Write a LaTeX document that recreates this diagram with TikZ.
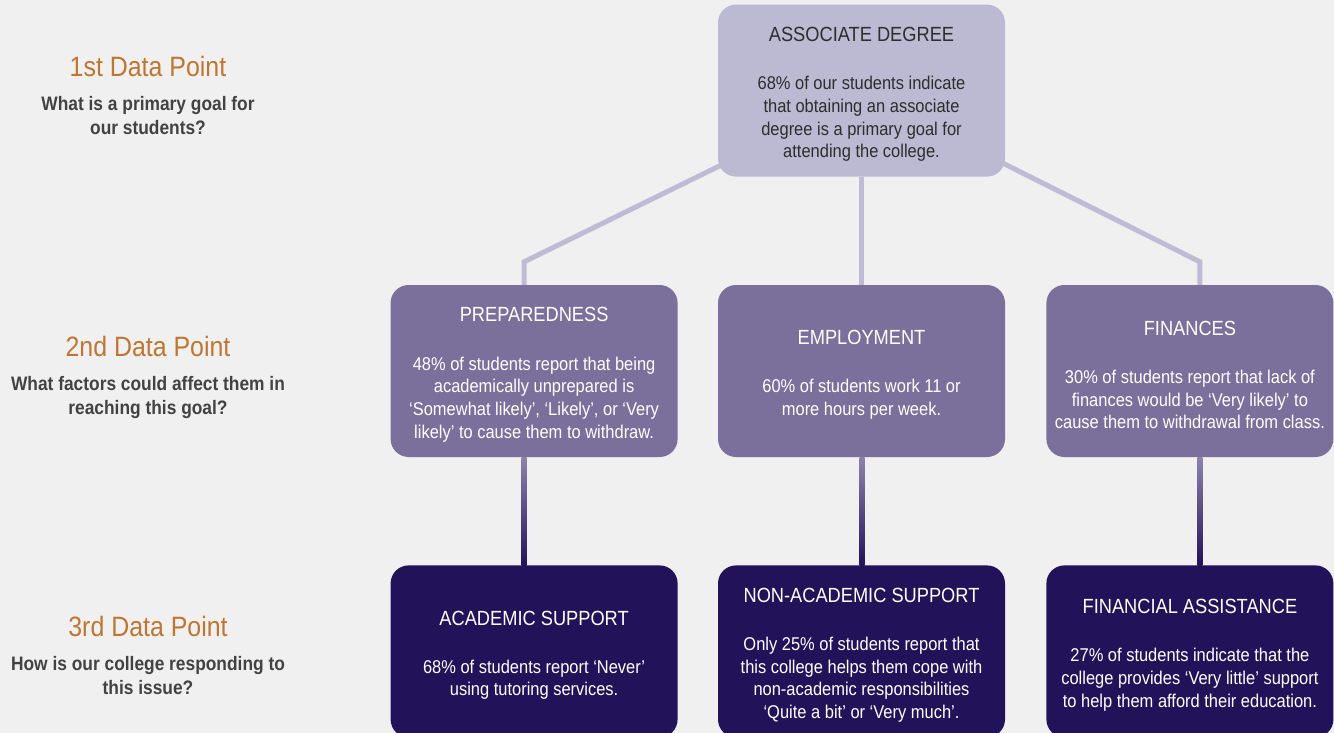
\documentclass[tikz,border=0pt]{standalone}
\usepackage{fontspec}
\setmainfont{Liberation Sans}[FakeStretch=0.89]
\usepackage{tikz}
\usetikzlibrary{positioning,calc,backgrounds}

\definecolor{pagebg}{HTML}{F0F0F0}
\definecolor{lilac}{HTML}{BCB9D2}
\definecolor{lilacline}{HTML}{C0BBD4}
\definecolor{midpurple}{HTML}{7B6F9C}
\definecolor{midline}{HTML}{8C83AC}
\definecolor{darkpurple}{HTML}{22125A}
\definecolor{rust}{HTML}{BF7632}
\definecolor{inkgrey}{HTML}{2D2D2D}

\newcommand\bodyf{\fontsize{18.5}{22.7}\selectfont}
\newcommand\headf{\fontsize{20.5}{24}\selectfont\rule{0pt}{22pt}}

\begin{document}
\begin{tikzpicture}[x=1pt, y=1pt,
    box/.style = {rounded corners=18pt, minimum width=287pt, minimum height=172pt,
                  inner sep=0pt, align=center, font=\bodyf},
    topbox/.style = {box, fill=lilac, text=inkgrey},
    midbox/.style = {box, fill=midpurple, text=white},
    lowbox/.style = {box, fill=darkpurple, text=white},
    point/.style = {inner sep=0pt, text=rust, font=\fontsize{28}{32}\selectfont},
    ques/.style = {inner sep=0pt, align=center, text=inkgrey!90,
                   font=\bfseries\fontsize{19.5}{24}\selectfont},
    link/.style = {lilacline, line width=5pt}]
    \useasboundingbox (0,0) rectangle (1334,-733);

    % the three rows of boxes
    \node(emp)[midbox] at (861.5,-371) {{\headf EMPLOYMENT}\\[25.5pt]60\% of students work 11 or\\more hours per week.};
    \node(prep)[midbox, left = 40pt of emp] {{\headf PREPAREDNESS}\\[25.5pt]48\% of students report that being\\academically unprepared is\\`Somewhat likely', `Likely', or `Very\\likely' to cause them to withdraw.};
    \node(fin)[midbox, right = 41pt of emp] {{\headf FINANCES}\\[25.5pt]30\% of students report that lack of\\finances would be `Very likely' to\\cause them to withdrawal from class.};
    \node(top)[topbox, above = 108pt of emp] {{\headf ASSOCIATE DEGREE}\\[25.5pt]68\% of our students indicate\\that obtaining an associate\\degree is a primary goal for\\attending the college.};

    \node(acad)[lowbox, below = 108pt of prep] {{\headf ACADEMIC SUPPORT}\\[25.5pt]68\% of students report `Never'\\using tutoring services.};
    \node(nonac)[lowbox, below = 108pt of emp] {{\headf NON-ACADEMIC SUPPORT}\\[25.5pt]Only 25\% of students report that\\this college helps them cope with\\non-academic responsibilities\\`Quite a bit' or `Very much'.};
    \node(finas)[lowbox, below = 108pt of fin] {{\headf FINANCIAL ASSISTANCE}\\[25.5pt]27\% of students indicate that the\\college provides `Very little' support\\to help them afford their education.};

    % questions on the left
    \node(d1)[point] at (148,-66) {1st Data Point};
    \node(q1)[ques, below = 20pt of d1] {What is a primary goal for\\our students?};
    \node(d2)[point] at (148,-346) {2nd Data Point};
    \node(q2)[ques, below = 20pt of d2] {What factors could affect them in\\reaching this goal?};
    \node(d3)[point] at (148,-626) {3rd Data Point};
    \node(q3)[ques, below = 20pt of d3] {How is our college responding to\\this issue?};

    \coordinate (kl) at ($(prep.north)+(-10,23)$);
    \coordinate (kr) at ($(fin.north)+(10,23)$);

    \begin{pgfonlayer}{background}
        \fill[pagebg] (0,0) rectangle (1334,-733);
        % links from the goal
        \draw[link, line join=miter] ($(top.south west)+(4,12)$) -- (kl) -- (kl |- prep.north);
        \draw[link] (top.south) -- (emp.north);
        \draw[link, line join=miter] ($(top.south east)+(-3,14)$) -- (kr) -- (kr |- fin.north);
        % links down to the answers
        \shade[top color=midline, bottom color=darkpurple] ($(prep.south)+(-12.5,0)$) rectangle ($(acad.north)+(-7.5,0)$);
        \shade[top color=midline, bottom color=darkpurple] ($(emp.south)+(-2,0)$) rectangle ($(nonac.north)+(3,0)$);
        \shade[top color=midline, bottom color=darkpurple] ($(fin.south)+(7.5,0)$) rectangle ($(finas.north)+(12.5,0)$);
    \end{pgfonlayer}
\end{tikzpicture}
\end{document}
